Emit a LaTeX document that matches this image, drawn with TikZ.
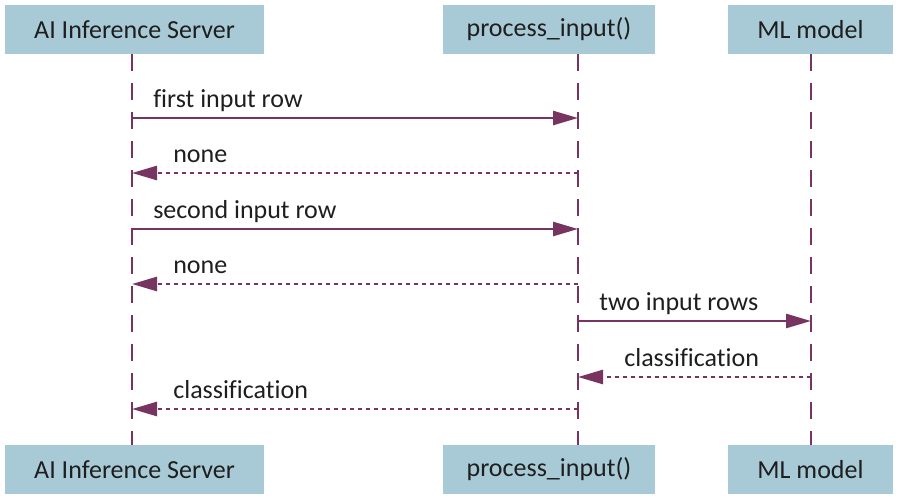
\documentclass[tikz,border=0pt]{standalone}
\usepackage{fontspec}
\setmainfont[Ligatures=NoCommon]{Carlito}
\usetikzlibrary{arrows.meta}
\definecolor{msgcol}{RGB}{120,52,96}
\definecolor{boxcol}{RGB}{168,202,214}
\definecolor{txtcol}{RGB}{30,30,30}
\tikzset{
    part/.style={fill=boxcol, text=txtcol, inner sep=0pt, minimum height=49pt, font=\fontsize{26}{30}\selectfont},
    life/.style={draw=msgcol, line width=2pt, dash pattern=on 17pt off 12pt},
    call/.style={draw=msgcol, line width=2.6pt, -{Triangle[length=25pt, width=14pt]}},
    reply/.style={call, dash pattern=on 4.5pt off 3.5pt},
    lbl/.style={text=txtcol, inner sep=0pt, anchor=base west, yshift=11pt, font=\fontsize{26}{30}\selectfont}
}
\begin{document}
\begin{tikzpicture}[x=1pt, y=-1pt]

    \useasboundingbox (0, 0) rectangle (904, 503);

    % Declare the participants
    \node[part, minimum width=259pt] at (134.5, 29.5) (srvTop) {AI Inference Server};
    \node[part, minimum width=212pt] at (549, 29.5) (procTop) {process\_input()};
    \node[part, minimum width=165pt] at (810.5, 29.5) (mlTop) {ML model};
    \node[part, minimum width=259pt] at (134.5, 469.5) (srvBot) {AI Inference Server};
    \node[part, minimum width=212pt] at (549, 469.5) (procBot) {process\_input()};
    \node[part, minimum width=165pt] at (810.5, 469.5) (mlBot) {ML model};

    % Declare the lifelines
    \coordinate (srv) at (132, 54);
    \coordinate (proc) at (578, 54);
    \coordinate (ml) at (811, 54);
    \draw[life] (srv) -- (srv |- srvBot.north);
    \draw[life] (proc) -- (proc |- procBot.north);
    \draw[life] (ml) -- (ml |- mlBot.north);

    % Declare the messages
    \draw[call] (srv |- 0, 118) -- (proc |- 0, 118) node[lbl, pos=0, xshift=20pt] {first input row};
    \draw[reply] (proc |- 0, 173) -- (srv |- 0, 173) node[lbl, pos=1, xshift=40pt] {none};
    \draw[call] (srv |- 0, 229) -- (proc |- 0, 229) node[lbl, pos=0, xshift=20pt] {second input row};
    \draw[reply] (proc |- 0, 284) -- (srv |- 0, 284) node[lbl, pos=1, xshift=40pt] {none};
    \draw[call] (proc |- 0, 321) -- (ml |- 0, 321) node[lbl, pos=0, xshift=20pt] {two input rows};
    \draw[reply] (ml |- 0, 377) -- (proc |- 0, 377) node[lbl, pos=1, xshift=45pt] {classification};
    \draw[reply] (proc |- 0, 409) -- (srv |- 0, 409) node[lbl, pos=1, xshift=40pt] {classification};

\end{tikzpicture}
\end{document}
